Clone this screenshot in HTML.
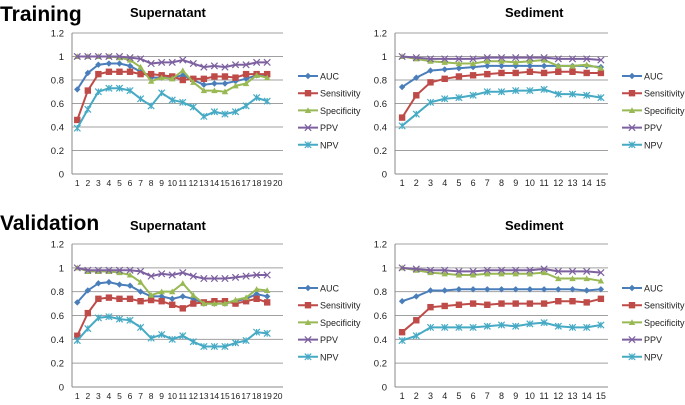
<!DOCTYPE html>
<html><head><meta charset="utf-8"><style>
body{margin:0;background:#fff;width:685px;height:405px;overflow:hidden}
svg{display:block;font-family:"Liberation Sans",sans-serif}
</style></head><body>
<svg id="c" width="685" height="405">
<text x="0" y="21" font-size="21" font-weight="bold">Training</text>
<text x="130" y="17" font-size="13" font-weight="bold">Supernatant</text>
<text x="505" y="17" font-size="13" font-weight="bold">Sediment</text>
<text x="0" y="230" font-size="21" font-weight="bold">Validation</text>
<text x="130" y="230" font-size="13" font-weight="bold">Supernatant</text>
<text x="505" y="230" font-size="13" font-weight="bold">Sediment</text>
</svg>
<script>
const seriesNames=["AUC","Sensitivity","Specificity","PPV","NPV"];
const yTicks=[0,0.2,0.4,0.6,0.8,1,1.2];
const trainSupAUC=[.72,.86,.93,.94,.94,.92,.87,.82,.82,.82,.84,.80,.76,.77,.77,.79,.81,.84,.83];
const trainSupSens=[.46,.71,.85,.87,.87,.87,.85,.85,.84,.83,.80,.81,.81,.83,.83,.82,.85,.85,.85];
const trainSupSpec=[1,1,1,1,.99,.97,.91,.79,.82,.81,.88,.78,.71,.71,.70,.75,.77,.84,.82];
const trainSupPPV=[1,1,1,1,1,.99,.98,.94,.95,.95,.97,.94,.91,.92,.91,.93,.93,.95,.95];
const trainSupNPV=[.39,.55,.70,.73,.73,.71,.64,.58,.69,.63,.61,.57,.49,.53,.51,.53,.58,.65,.62];
const trainSedAUC=[.74,.82,.88,.89,.90,.91,.92,.92,.92,.92,.92,.92,.92,.92,.91];
const trainSedSens=[.48,.67,.78,.81,.83,.84,.85,.86,.86,.87,.86,.87,.87,.86,.86];
const trainSedSpec=[1,.98,.96,.95,.94,.94,.96,.96,.95,.96,.97,.92,.92,.93,.90];
const trainSedPPV=[1,.99,.98,.98,.98,.98,.99,.99,.99,.99,.99,.98,.98,.98,.97];
const trainSedNPV=[.41,.51,.61,.64,.65,.67,.70,.70,.71,.71,.72,.68,.68,.67,.65];
const valSupAUC=[.71,.81,.87,.88,.86,.85,.80,.76,.76,.74,.76,.74,.70,.70,.70,.72,.74,.78,.76];
const valSupSens=[.43,.62,.74,.75,.74,.74,.72,.73,.72,.69,.66,.70,.71,.72,.72,.70,.72,.74,.71];
const valSupSpec=[1,.97,.97,.97,.96,.94,.88,.77,.80,.80,.87,.77,.70,.70,.70,.73,.75,.82,.81];
const valSupPPV=[1,.98,.98,.98,.98,.98,.97,.93,.95,.94,.96,.93,.91,.91,.91,.92,.93,.94,.94];
const valSupNPV=[.39,.49,.58,.59,.57,.56,.50,.41,.44,.40,.43,.38,.34,.34,.34,.37,.39,.46,.45];
const valSedAUC=[.72,.76,.81,.81,.82,.82,.82,.82,.82,.82,.82,.82,.82,.81,.82];
const valSedSens=[.46,.56,.67,.68,.69,.70,.69,.70,.70,.70,.70,.72,.72,.71,.74];
const valSedSpec=[1,.98,.96,.95,.94,.94,.95,.95,.95,.95,.96,.91,.91,.91,.89];
const valSedPPV=[1,.99,.98,.98,.97,.97,.98,.98,.98,.98,.99,.97,.97,.97,.96];
const valSedNPV=[.39,.43,.50,.50,.50,.50,.51,.52,.51,.53,.54,.51,.50,.50,.52];
const colors=["#4a7ebb","#be4b48","#98b954","#7d60a0","#46aac5"];
const NS="http://www.w3.org/2000/svg";
const svg=document.getElementById('c');
function mk(t,a,p){const e=document.createElementNS(NS,t);for(const k in a)e.setAttribute(k,a[k]);(p||svg).appendChild(e);return e;}
function marker(g,k,x,y,c){
  const s=3.2;
  if(k==0){mk('polygon',{points:`${x},${y-s} ${x+s},${y} ${x},${y+s} ${x-s},${y}`,fill:c},g);}
  else if(k==1){mk('rect',{x:x-s,y:y-s,width:2*s,height:2*s,fill:c},g);}
  else if(k==2){mk('polygon',{points:`${x},${y-s} ${x+s},${y+s*0.8} ${x-s},${y+s*0.8}`,fill:c},g);}
  else if(k==3){mk('path',{d:`M${x-s} ${y-s}L${x+s} ${y+s}M${x-s} ${y+s}L${x+s} ${y-s}`,stroke:c,'stroke-width':1.2},g);}
  else {mk('path',{d:`M${x-s} ${y-s}L${x+s} ${y+s}M${x-s} ${y+s}L${x+s} ${y-s}M${x} ${y-s}L${x} ${y+s}`,stroke:c,'stroke-width':1.2},g);}
}
function panel(name,x0,x1,yTop,yBot,nCats,data,legX,legY){
  const g=mk('g',{});
  
  
  const yS=v=>yBot-(v/1.2)*(yBot-yTop);
  const cw=(x1-x0)/nCats;
  const xS=i=>x0+cw*(i+0.5);
  yTicks.forEach(t=>{
    const yy=yS(t);
    if(t>0){const l=mk('line',{x1:x0,x2:x1,y1:yy,y2:yy,stroke:'#a0a0a0','stroke-width':1},g);
    
    }
    const tx=mk('text',{x:x0-8,y:yy+3.5,'font-size':9.5,'text-anchor':'end',fill:'#222'},g);
    
    
    tx.textContent=String(t);
  });
  mk('line',{x1:x0,x2:x0,y1:yTop,y2:yBot,stroke:'#888'},g);
  mk('line',{x1:x0,x2:x1,y1:yBot,y2:yBot,stroke:'#888'},g);
  for(let i=0;i<nCats;i++){
    const tx=mk('text',{x:xS(i),y:yBot+12,'font-size':nCats>15?8.5:9,'text-anchor':'middle',fill:'#222'},g);
    
    
    tx.textContent=String(i+1);
  }
  data.forEach((arr,k)=>{
    const pl=mk('polyline',{points:arr.map((v,i)=>xS(i)+','+yS(v)).join(' '),fill:'none',stroke:colors[k],'stroke-width':2},g);
    
    
    arr.forEach((v,i)=>marker(g,k,xS(i),yS(v),colors[k]));
  });
  seriesNames.forEach((n,k)=>{
    const yy=legY+k*17.2;
    const lg=mk('g',{},g);
    
    
    mk('line',{x1:legX,x2:legX+20,y1:yy,y2:yy,stroke:colors[k],'stroke-width':2},lg);
    marker(lg,k,legX+10,yy,colors[k]);
    const t=mk('text',{x:legX+22,y:yy+3.5,'font-size':9,fill:'#222'},lg);
    t.textContent=n;
  });
}
panel('training-supernatant-chart',72,283,33,174,20,[trainSupAUC,trainSupSens,trainSupSpec,trainSupPPV,trainSupNPV],298,76);
panel('training-sediment-chart',395,608,33,174,15,[trainSedAUC,trainSedSens,trainSedSpec,trainSedPPV,trainSedNPV],622,76);
panel('validation-supernatant-chart',72,283,244,387,20,[valSupAUC,valSupSens,valSupSpec,valSupPPV,valSupNPV],298,288);
panel('validation-sediment-chart',395,608,244,387,15,[valSedAUC,valSedSens,valSedSpec,valSedPPV,valSedNPV],622,288);
</script>
</body></html>
